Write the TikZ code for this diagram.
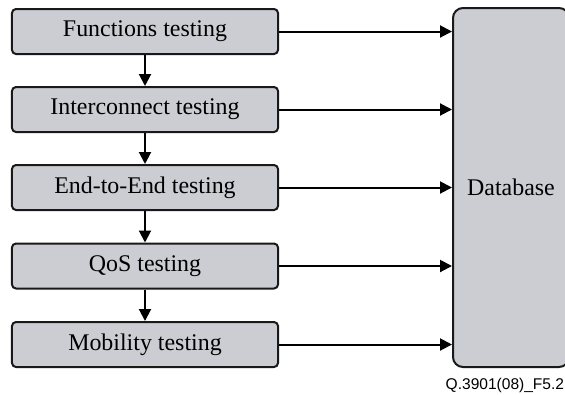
\documentclass[tikz,border=0pt]{standalone}
\usepackage{fontspec}
\setmainfont{Liberation Serif}
\newfontfamily\capfont{Liberation Sans}
\usetikzlibrary{arrows.meta}
\definecolor{boxgray}{RGB}{204,205,210}
\begin{document}
\begin{tikzpicture}[x=1bp,y=-1bp,
  testbox/.style={draw=black!90,line width=2bp,fill=boxgray,rounded corners=4bp,
    minimum width=266bp,minimum height=45bp,inner sep=0pt,
    font=\fontsize{24}{28}\selectfont},
  conn/.style={line width=2bp,-{Triangle[length=12bp,width=12bp]}}]
\useasboundingbox (0,0) rectangle (565,394);
\node[testbox] (f) at (145,31.5) {Functions testing};
\node[testbox] (i) at (145,109.5) {Interconnect testing};
\node[testbox] (e) at (145,187.5) {End-to-End testing};
\node[testbox] (q) at (145,266) {QoS testing};
\node[testbox] (m) at (145,344.5) {Mobility testing};
\node[draw=black!90,line width=2bp,fill=boxgray,rounded corners=10bp,
  minimum width=116bp,minimum height=359bp,inner sep=0pt,
  font=\fontsize{24}{28}\selectfont] (db) at (511,187.5) {Database};
\foreach \a/\b in {f/i,i/e,e/q,q/m}
  \draw[conn] (\a.south) -- (\b.north);
\foreach \a in {f,i,e,q,m}
  \draw[conn] (\a.east) -- (\a.east -| db.west);
\node[anchor=base west,inner sep=0pt,font=\capfont\fontsize{15.6}{18}\selectfont] (cap) at (445.5,389.5) {Q.3901(08)\_F5.2};
\end{tikzpicture}
\end{document}
